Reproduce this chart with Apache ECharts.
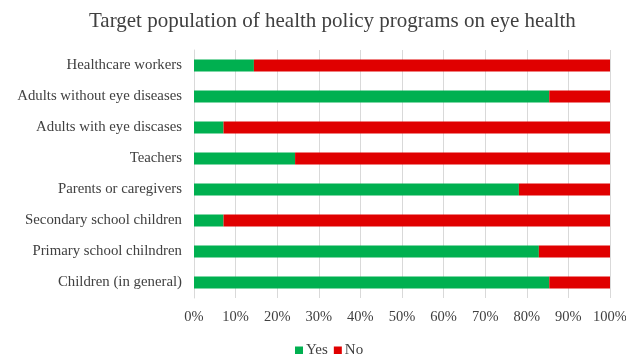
<!DOCTYPE html>
<html>
<head>
<meta charset="utf-8">
<script src="https://cdn.jsdelivr.net/npm/echarts@6/dist/echarts.min.js"></script>
<style>
  html, body { margin: 0; padding: 0; background: #fff; }
  #chart { width: 626px; height: 354px; }
</style>
</head>
<body>
<div id="chart"></div>
<script>
// categories listed bottom to top (echarts draws the first one at the bottom)
const categories = [
  'Children (in general)',
  'Primary school chilndren',
  'Secondary school children',
  'Parents or caregivers',
  'Teachers',
  'Adults with eye discases',
  'Adults without eye diseases',
  'Healthcare workers'
]
const yesValues = [85.4, 82.9, 7.1, 78.1, 24.3, 7.1, 85.4, 14.4]
const noValues = yesValues.map(v => +(100 - v).toFixed(1))
const xTicks = [0, 10, 20, 30, 40, 50, 60, 70, 80, 90, 100]

const font = 'Liberation Serif'
const chart = echarts.init(document.getElementById('chart'))
chart.setOption({
  animation: false,
  title: {
    text: 'Target population of health policy programs on eye health',
    left: 84,
    top: 6,
    textStyle: { fontFamily: font, fontSize: 21, fontWeight: 'normal', color: '#404040' }
  },
  legend: {
    data: ['Yes', 'No'],
    left: 290,
    top: 338,
    itemWidth: 8,
    itemHeight: 8,
    itemGap: 6,
    icon: 'rect',
    textStyle: { fontFamily: font, fontSize: 15, color: '#404040', padding: [0, 0, 0, -2] }
  },
  grid: { left: 194, right: 16, top: 50, bottom: 56, outerBoundsMode: 'none' },
  xAxis: {
    type: 'value',
    min: 0,
    max: 100,
    interval: 10,
    axisLine: { show: false },
    axisTick: { show: false },
    splitLine: { lineStyle: { color: '#d9d9d9' } },
    axisLabel: {
      fontFamily: font, fontSize: 14.5, color: '#404040', margin: 12,
      formatter: v => xTicks.includes(v) ? v + '%' : ''
    }
  },
  yAxis: {
    type: 'category',
    data: categories,
    axisLine: { show: true, lineStyle: { color: '#d9d9d9' } },
    axisTick: { show: false },
    axisLabel: { fontFamily: font, fontSize: 14.8, color: '#404040', margin: 12 }
  },
  series: [
    {
      name: 'Yes', type: 'bar', stack: 'total', data: yesValues,
      barWidth: 12, itemStyle: { color: '#00b050' }
    },
    {
      name: 'No', type: 'bar', stack: 'total', data: noValues,
      barWidth: 12, itemStyle: { color: '#e00000' }
    }
  ]
})
</script>
</body>
</html>
